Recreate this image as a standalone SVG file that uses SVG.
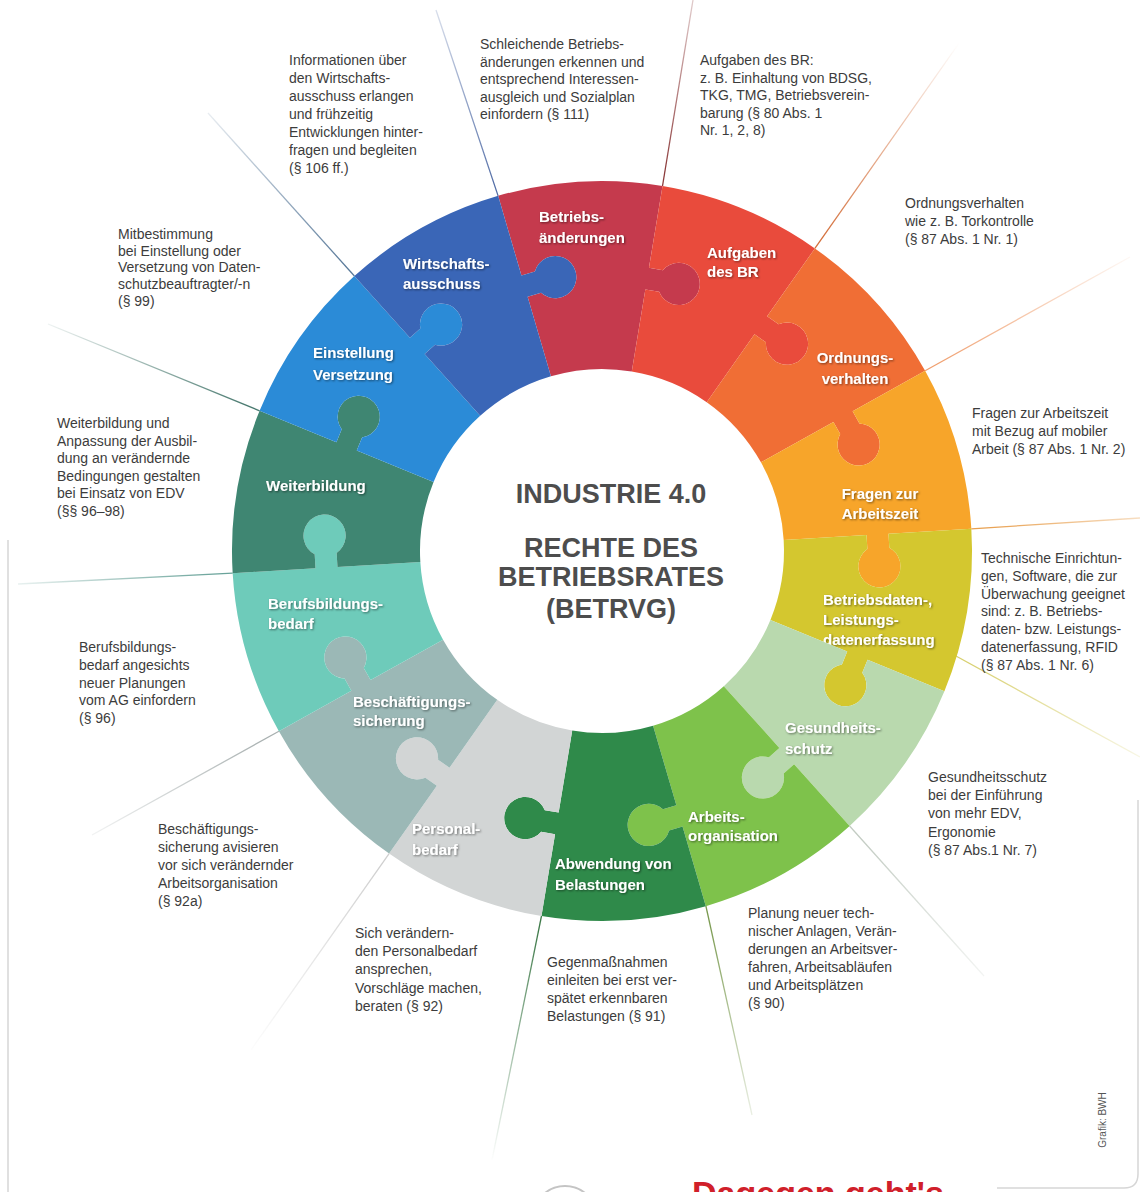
<svg xmlns="http://www.w3.org/2000/svg" xmlns:xlink="http://www.w3.org/1999/xlink" width="1140" height="1192" viewBox="0 0 1140 1192">
<style>
.desc{font-family:"Liberation Sans",Arial,sans-serif;font-size:14px;fill:#3c3c3c}
.lbl{font-family:"Liberation Sans",Arial,sans-serif;font-size:15px;font-weight:bold;fill:#ffffff;filter:url(#ts)}
.mid{text-anchor:middle}
.title{font-family:"Liberation Sans",Arial,sans-serif;font-size:27px;font-weight:bold;fill:#4d4d4d;text-anchor:middle}
.lead{fill:none;stroke-width:1.3}
.frame{fill:none;stroke:#d6d6d6;stroke-width:1.5}
</style>
<defs>
<filter id="ts" x="-10%" y="-30%" width="130%" height="160%">
<feDropShadow dx="1" dy="1" stdDeviation="0.8" flood-color="#000" flood-opacity="0.5"/>
</filter>
<radialGradient id="fade" cx="602" cy="551" r="640" gradientUnits="userSpaceOnUse">
<stop offset="0.6" stop-color="#fff"/>
<stop offset="0.97" stop-color="#000"/>
</radialGradient>
<mask id="fm" maskUnits="userSpaceOnUse" x="0" y="0" width="1140" height="1192">
<rect width="1140" height="1192" fill="url(#fade)"/>
</mask>
<path id="pc" d="M0,-182 L0,-265 L14,-265 A21.1,21.1 0 1 0 14,-287 L0,-287 L0,-370 A370,370 0 0 1 160.54,-333.36 L124.52,-258.58 L137.13,-252.51 A21.1,21.1 0 1 1 127.59,-232.69 L114.98,-238.76 L78.97,-163.98 A182,182 0 0 0 0,-182 Z"/>
</defs>
<rect width="1140" height="1192" fill="#ffffff"/>
<g id="frame">
<path class="frame" d="M8,540 L8,1192"/>
<path class="frame" d="M997,1188 L1124,1188 Q1138,1188 1138,1174 L1138,800"/>
<circle cx="565" cy="1218" r="32" fill="none" stroke="#c4c4c4" stroke-width="2"/>
</g>
<g id="connectors" mask="url(#fm)">
<path class="lead" stroke="#5570a8" d="M498.1,195.9 L436,10"/>
<path class="lead" stroke="#8c3b3b" d="M662.5,186 L693,0"/>
<path class="lead" stroke="#d4703c" d="M814.9,248.4 L976,19"/>
<path class="lead" stroke="#f0a070" d="M925.1,370.7 L1130,257"/>
<path class="lead" stroke="#e8a050" d="M971.3,528.8 L1140,518"/>
<path class="lead" stroke="#d8d070" d="M945,650 L1140,757"/>
<path class="lead" stroke="#c3ccc3" d="M849.6,826 L984,976"/>
<path class="lead" stroke="#7a9a50" d="M705.9,906 L752,1115"/>
<path class="lead" stroke="#3f7a4a" d="M541.5,916 L492,1160"/>
<path class="lead" stroke="#cfcfcf" d="M389.1,853.6 L251,1050"/>
<path class="lead" stroke="#a8b0b0" d="M278.9,731.3 L92,835"/>
<path class="lead" stroke="#6aa39a" d="M232.7,573.2 L18,584"/>
<path class="lead" stroke="#4a7a70" d="M259.6,410.8 L48,324"/>
<path class="lead" stroke="#5a7a9a" d="M354.4,276 L208,113"/>
</g>
<g id="ring">
<g id="p-betriebsaenderungen"><use href="#pc" transform="translate(602,551) rotate(-16.3)" fill="#c53a4d"/>
<text class="lbl" x="539" y="222">Betriebs-<tspan x="539" dy="21">änderungen</tspan></text></g>
<g id="p-aufgaben"><use href="#pc" transform="translate(602,551) rotate(9.414)" fill="#e94b3c"/>
<text class="lbl" x="707" y="258">Aufgaben<tspan x="707" dy="19">des BR</tspan></text></g>
<g id="p-ordnungsverhalten"><use href="#pc" transform="translate(602,551) rotate(35.129)" fill="#f06e35"/>
<text class="lbl mid" x="855" y="363">Ordnungs-<tspan x="855" dy="21">verhalten</tspan></text></g>
<g id="p-arbeitszeit"><use href="#pc" transform="translate(602,551) rotate(60.843)" fill="#f7a52a"/>
<text class="lbl mid" x="880" y="499">Fragen zur<tspan x="880" dy="20">Arbeitszeit</tspan></text></g>
<g id="p-betriebsdaten"><use href="#pc" transform="translate(602,551) rotate(86.557)" fill="#d4c72f"/>
<text class="lbl" x="823" y="605">Betriebsdaten-,<tspan x="823" dy="20">Leistungs-</tspan><tspan x="823" dy="20">datenerfassung</tspan></text></g>
<g id="p-gesundheitsschutz"><use href="#pc" transform="translate(602,551) rotate(112.271)" fill="#b9d9ae"/>
<text class="lbl" x="785" y="733">Gesundheits-<tspan x="785" dy="21">schutz</tspan></text></g>
<g id="p-arbeitsorganisation"><use href="#pc" transform="translate(602,551) rotate(137.986)" fill="#7ec24b"/>
<text class="lbl" x="688" y="822">Arbeits-<tspan x="688" dy="19">organisation</tspan></text></g>
<g id="p-abwendung"><use href="#pc" transform="translate(602,551) rotate(163.7)" fill="#2f8a4a"/>
<text class="lbl" x="555" y="869">Abwendung von<tspan x="555" dy="21">Belastungen</tspan></text></g>
<g id="p-personalbedarf"><use href="#pc" transform="translate(602,551) rotate(189.414)" fill="#d2d5d5"/>
<text class="lbl" x="412" y="834">Personal-<tspan x="412" dy="21">bedarf</tspan></text></g>
<g id="p-beschaeftigung"><use href="#pc" transform="translate(602,551) rotate(215.129)" fill="#9bb8b6"/>
<text class="lbl" x="353" y="707">Beschäftigungs-<tspan x="353" dy="19">sicherung</tspan></text></g>
<g id="p-berufsbildung"><use href="#pc" transform="translate(602,551) rotate(240.843)" fill="#6ecbba"/>
<text class="lbl" x="268" y="609">Berufsbildungs-<tspan x="268" dy="20">bedarf</tspan></text></g>
<g id="p-weiterbildung"><use href="#pc" transform="translate(602,551) rotate(266.557)" fill="#3f8672"/>
<text class="lbl" x="266" y="491">Weiterbildung</text></g>
<g id="p-einstellung"><use href="#pc" transform="translate(602,551) rotate(292.271)" fill="#2b8bd7"/>
<text class="lbl" x="313" y="358">Einstellung<tspan x="313" dy="22">Versetzung</tspan></text></g>
<g id="p-wirtschaftsausschuss"><use href="#pc" transform="translate(602,551) rotate(317.986)" fill="#3a66b7"/>
<text class="lbl" x="403" y="269">Wirtschafts-<tspan x="403" dy="20">ausschuss</tspan></text></g>
</g>
<g id="center">
<text class="title" x="611" y="503">INDUSTRIE 4.0</text>
<text class="title" x="611" y="557">RECHTE DES</text>
<text class="title" x="611" y="586">BETRIEBSRATES</text>
<text class="title" x="611" y="618">(BETRVG)</text>
</g>
<g id="descriptions">
<text class="desc" x="289" y="65">Informationen über<tspan x="289" dy="18">den Wirtschafts-</tspan><tspan x="289" dy="18">ausschuss erlangen</tspan><tspan x="289" dy="18">und frühzeitig</tspan><tspan x="289" dy="18">Entwicklungen hinter-</tspan><tspan x="289" dy="18">fragen und begleiten</tspan><tspan x="289" dy="18">(§ 106 ff.)</tspan></text>
<text class="desc" x="480" y="49">Schleichende Betriebs-<tspan x="480" dy="17.5">änderungen erkennen und</tspan><tspan x="480" dy="17.5">entsprechend Interessen-</tspan><tspan x="480" dy="17.5">ausgleich und Sozialplan</tspan><tspan x="480" dy="17.5">einfordern (§ 111)</tspan></text>
<text class="desc" x="700" y="65">Aufgaben des BR:<tspan x="700" dy="17.5">z. B. Einhaltung von BDSG,</tspan><tspan x="700" dy="17.5">TKG, TMG, Betriebsverein-</tspan><tspan x="700" dy="17.5">barung (§ 80 Abs. 1</tspan><tspan x="700" dy="17.5">Nr. 1, 2, 8)</tspan></text>
<text class="desc" x="905" y="208">Ordnungsverhalten<tspan x="905" dy="18">wie z. B. Torkontrolle</tspan><tspan x="905" dy="18">(§ 87 Abs. 1 Nr. 1)</tspan></text>
<text class="desc" x="972" y="418">Fragen zur Arbeitszeit<tspan x="972" dy="18">mit Bezug auf mobiler</tspan><tspan x="972" dy="18">Arbeit (§ 87 Abs. 1 Nr. 2)</tspan></text>
<text class="desc" x="981" y="563">Technische Einrichtun-<tspan x="981" dy="17.8">gen, Software, die zur</tspan><tspan x="981" dy="17.8">Überwachung geeignet</tspan><tspan x="981" dy="17.8">sind: z. B. Betriebs-</tspan><tspan x="981" dy="17.8">daten- bzw. Leistungs-</tspan><tspan x="981" dy="17.8">datenerfassung, RFID</tspan><tspan x="981" dy="17.8">(§ 87 Abs. 1 Nr. 6)</tspan></text>
<text class="desc" x="928" y="782">Gesundheitsschutz<tspan x="928" dy="18.2">bei der Einführung</tspan><tspan x="928" dy="18.2">von mehr EDV,</tspan><tspan x="928" dy="18.2">Ergonomie</tspan><tspan x="928" dy="18.2">(§ 87 Abs.1 Nr. 7)</tspan></text>
<text class="desc" x="748" y="918">Planung neuer tech-<tspan x="748" dy="18">nischer Anlagen, Verän-</tspan><tspan x="748" dy="18">derungen an Arbeitsver-</tspan><tspan x="748" dy="18">fahren, Arbeitsabläufen</tspan><tspan x="748" dy="18">und Arbeitsplätzen</tspan><tspan x="748" dy="18">(§ 90)</tspan></text>
<text class="desc" x="547" y="967">Gegenmaßnahmen<tspan x="547" dy="18">einleiten bei erst ver-</tspan><tspan x="547" dy="18">spätet erkennbaren</tspan><tspan x="547" dy="18">Belastungen (§ 91)</tspan></text>
<text class="desc" x="355" y="938">Sich verändern-<tspan x="355" dy="18.2">den Personalbedarf</tspan><tspan x="355" dy="18.2">ansprechen,</tspan><tspan x="355" dy="18.2">Vorschläge machen,</tspan><tspan x="355" dy="18.2">beraten (§ 92)</tspan></text>
<text class="desc" x="158" y="834">Beschäftigungs-<tspan x="158" dy="18">sicherung avisieren</tspan><tspan x="158" dy="18">vor sich verändernder</tspan><tspan x="158" dy="18">Arbeitsorganisation</tspan><tspan x="158" dy="18">(§ 92a)</tspan></text>
<text class="desc" x="79" y="652">Berufsbildungs-<tspan x="79" dy="17.8">bedarf angesichts</tspan><tspan x="79" dy="17.8">neuer Planungen</tspan><tspan x="79" dy="17.8">vom AG einfordern</tspan><tspan x="79" dy="17.8">(§ 96)</tspan></text>
<text class="desc" x="57" y="428">Weiterbildung und<tspan x="57" dy="17.5">Anpassung der Ausbil-</tspan><tspan x="57" dy="17.5">dung an verändernde</tspan><tspan x="57" dy="17.5">Bedingungen gestalten</tspan><tspan x="57" dy="17.5">bei Einsatz von EDV</tspan><tspan x="57" dy="17.5">(§§ 96–98)</tspan></text>
<text class="desc" x="118" y="239">Mitbestimmung<tspan x="118" dy="16.7">bei Einstellung oder</tspan><tspan x="118" dy="16.7">Versetzung von Daten-</tspan><tspan x="118" dy="16.7">schutzbeauftragter/-n</tspan><tspan x="118" dy="16.7">(§ 99)</tspan></text>
</g>
<g id="footer">
<text x="1106" y="1120" transform="rotate(-90 1106 1120)" text-anchor="middle" style="font-family:'Liberation Sans',Arial,sans-serif;font-size:10px;fill:#555">Grafik: BWH</text>
<text x="692" y="1205" style="font-family:'Liberation Sans',Arial,sans-serif;font-size:34px;font-weight:bold;fill:#d0202a">Dagegen geht's</text>
</g>
</svg>
